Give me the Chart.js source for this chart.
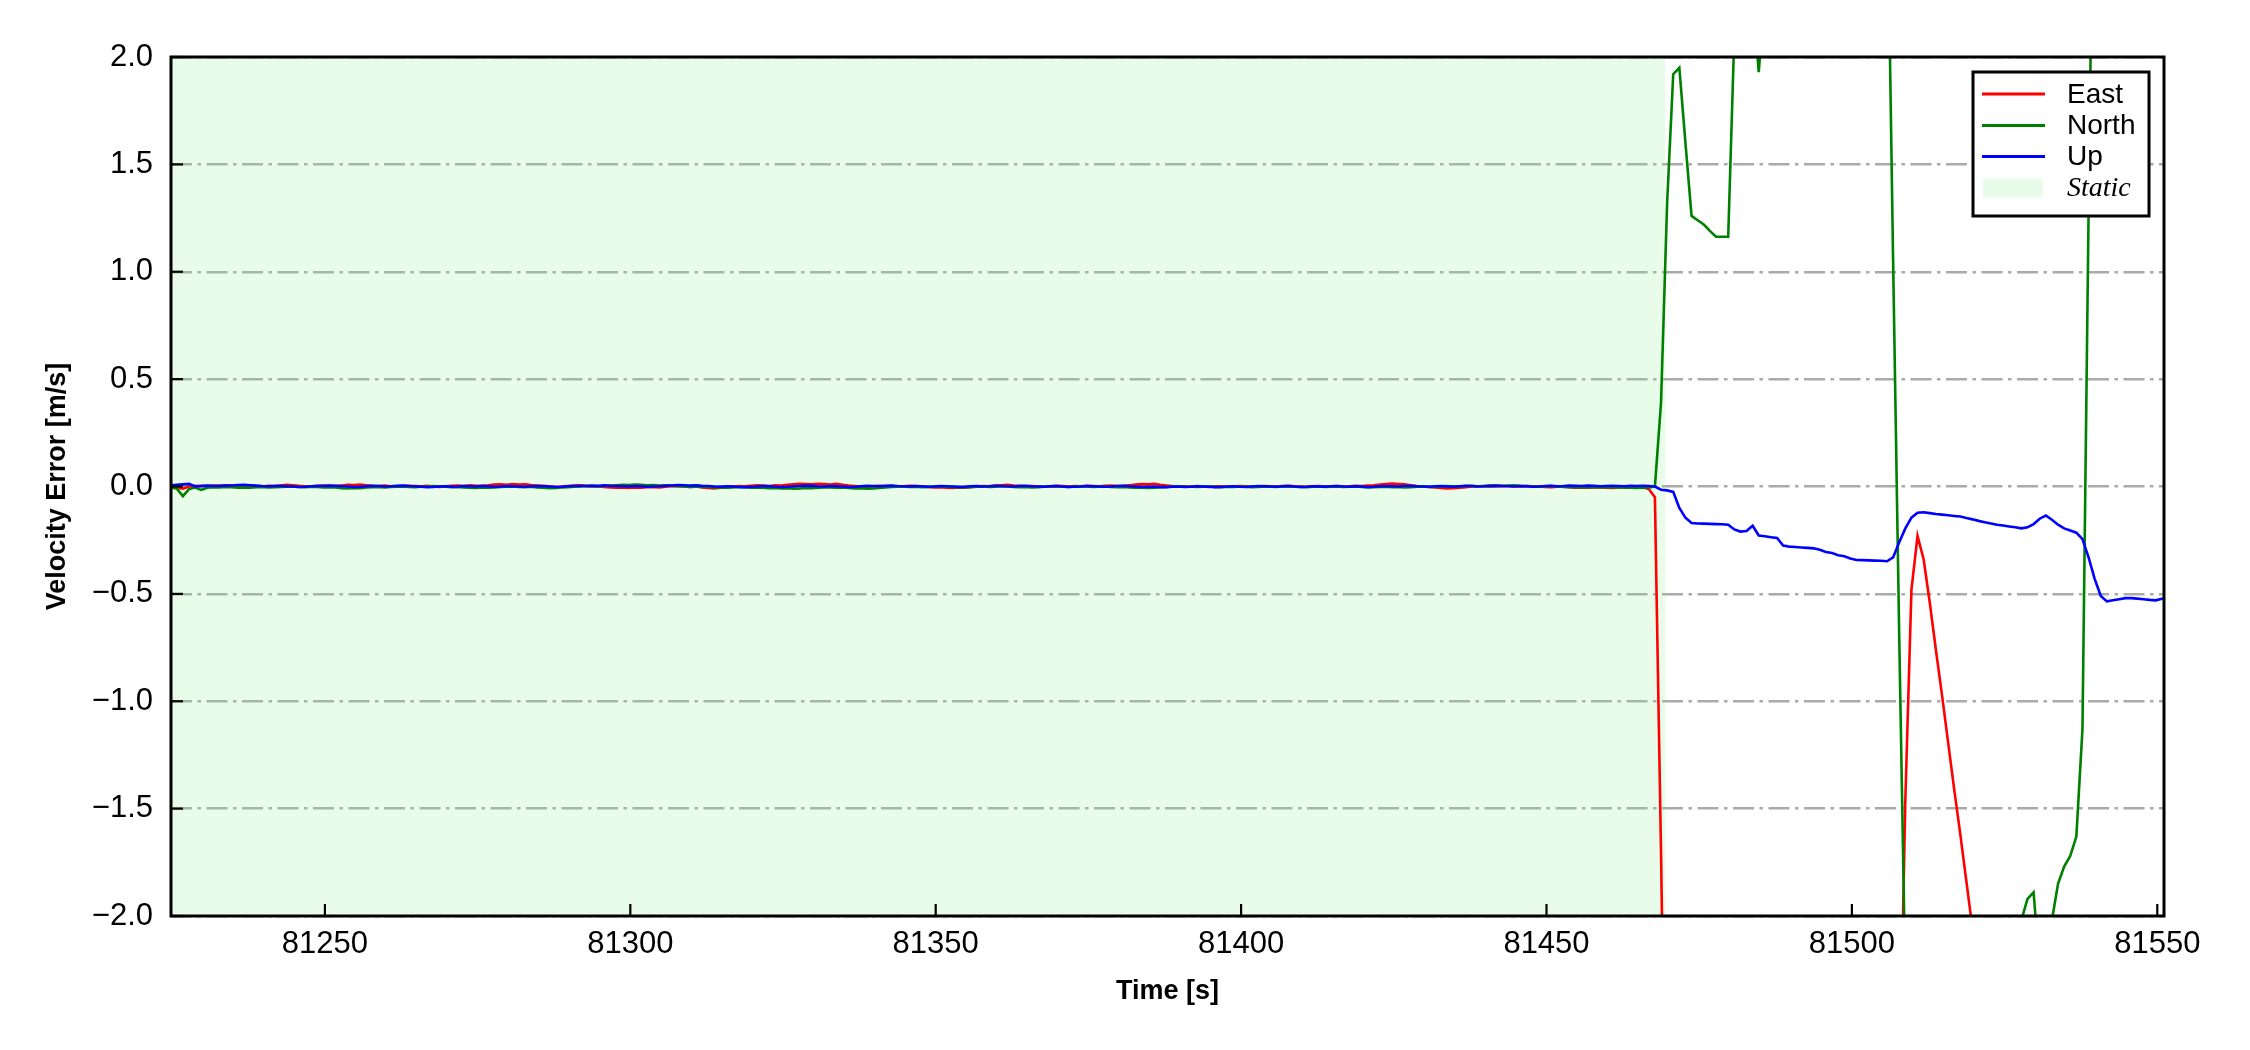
<!DOCTYPE html>
<html>
<head>
<meta charset="utf-8">
<script src="https://cdn.jsdelivr.net/npm/chart.js@4/dist/chart.umd.min.js"></script>
<style>
html,body{margin:0;padding:0;background:#ffffff;}
#wrap{width:2250px;height:1050px;position:relative;}
</style>
</head>
<body>
<div id="wrap"><canvas id="c" width="2250" height="1050"></canvas></div>
<script>
// ---------- data ----------
const seriesNames = ['East', 'North', 'Up'];
const staticLabel = 'Static';
const staticSpan = [81224.75, 81469.5];   // static period [s]
const timeStart = 81224.75;              // first sample time [s]
const timeStep = 1;                      // sample interval [s]
const xTickValues = [81250, 81300, 81350, 81400, 81450, 81500, 81550];
const yTickValues = [-2, -1.5, -1, -0.5, 0, 0.5, 1, 1.5, 2];

const eastValues = [
  0.002,-0.006,-0.01,0.0,0.003,0.001,0.002,0.004,0.003,0.005,
  0.004,0.003,0.002,0.004,0.001,0.0,0.003,0.002,0.004,0.008,
  0.006,0.003,0.001,0.0,0.002,0.004,0.003,0.002,0.005,0.008,
  0.007,0.009,0.006,0.003,0.002,0.004,0.001,0.0,0.002,0.003,
  0.002,0.001,0.003,0.0,-0.002,0.001,0.003,0.004,0.002,0.005,
  0.003,0.004,0.006,0.009,0.01,0.008,0.011,0.009,0.01,0.007,
  0.005,0.003,0.001,-0.002,0.0,0.002,0.004,0.006,0.003,0.001,
  0.0,-0.002,-0.004,-0.006,-0.005,-0.007,-0.004,-0.006,-0.003,-0.002,
  -0.004,-0.001,0.002,0.001,0.003,-0.002,0.0,-0.004,-0.007,-0.009,
  -0.006,-0.003,0.0,0.002,0.001,0.003,0.005,0.004,0.002,0.006,
  0.005,0.008,0.01,0.012,0.011,0.01,0.013,0.011,0.009,0.012,
  0.008,0.004,0.002,0.0,-0.002,0.001,0.003,0.001,0.002,0.0,
  0.001,0.003,0.002,0.0,-0.002,-0.004,-0.003,-0.006,-0.007,-0.005,
  -0.006,-0.002,0.0,0.002,0.001,0.004,0.006,0.008,0.005,0.003,
  0.001,0.002,0.0,-0.001,0.001,0.003,0.002,0.0,0.002,0.001,
  0.003,0.002,0.001,0.003,0.004,0.002,0.003,0.006,0.009,0.011,
  0.01,0.012,0.008,0.005,0.002,0.0,0.001,-0.001,0.002,0.0,
  -0.002,0.0,0.001,-0.001,0.0,0.002,0.001,-0.001,0.0,0.002,
  0.001,0.0,0.002,0.003,0.001,0.0,-0.001,0.001,0.002,0.0,
  0.001,0.002,0.0,0.001,0.003,0.002,0.004,0.006,0.009,0.012,
  0.014,0.012,0.01,0.006,0.002,0.0,-0.002,-0.005,-0.007,-0.009,
  -0.008,-0.006,-0.003,0.0,0.001,0.002,0.0,0.001,0.003,0.002,
  0.001,0.0,0.002,0.001,0.0,-0.002,-0.003,-0.001,0.0,-0.003,
  -0.005,-0.004,-0.006,-0.005,-0.003,-0.006,-0.007,-0.004,-0.005,-0.006,
  -0.004,-0.003,-0.012,
  -0.05,-1.7,-3.6,-4.5,-5.2,-5.8,-6.1,-6.3,-6.0,-5.7,
  -5.5,-5.4,-5.6,-5.9,-6.2,-6.4,-6.2,-5.9,-5.6,-5.3,
  -5.0,-4.8,-4.6,-4.5,-4.4,-4.3,-4.2,-4.1,-4.0,-3.9,
  -3.9,-3.8,-3.7,-3.6,-3.5,-3.4,-3.3,-3.2,-3.1,-3.0,
  -2.9,-1.46,-0.48,-0.23,-0.34,-0.54,-0.76,-0.97,-1.19,-1.41,
  -1.62,-1.84,-2.06,-2.3,-2.55,-2.8,-3.0,-3.2,-3.4,-3.5,
  -3.6,-3.8,-3.9,-4.0,-4.1,-4.2,-4.2,-4.3,-4.4,-4.4,
  -4.5,-4.5,-4.6,-4.6,-4.7,-4.7,-4.8,-4.8,-4.9,-4.9,
  -5.0,-5.0,-5.0,-5.1,-5.1
];

const northValues = [
  -0.004,-0.01,-0.045,-0.012,-0.005,-0.016,-0.006,-0.003,-0.004,-0.002,
  -0.003,-0.005,-0.004,-0.006,-0.003,-0.002,-0.004,-0.003,-0.002,-0.001,
  0.0,-0.002,-0.003,-0.001,-0.002,-0.004,-0.003,-0.005,-0.008,-0.009,
  -0.007,-0.008,-0.005,-0.003,-0.002,-0.004,-0.002,-0.001,0.0,-0.002,
  -0.003,-0.001,0.0,0.002,0.001,-0.001,-0.003,-0.002,-0.004,-0.006,
  -0.007,-0.005,-0.006,-0.004,-0.002,-0.001,0.0,-0.002,-0.003,-0.001,
  -0.004,-0.006,-0.008,-0.007,-0.005,-0.003,-0.001,0.0,0.002,0.001,
  0.0,0.002,0.004,0.006,0.008,0.007,0.009,0.008,0.006,0.007,
  0.005,0.006,0.004,0.002,0.0,-0.002,-0.001,0.0,-0.002,-0.004,
  -0.003,-0.005,-0.004,-0.002,-0.003,-0.005,-0.004,-0.006,-0.008,-0.007,
  -0.009,-0.008,-0.01,-0.009,-0.007,-0.008,-0.006,-0.005,-0.004,-0.006,
  -0.005,-0.007,-0.009,-0.008,-0.01,-0.009,-0.007,-0.004,-0.002,-0.001,
  0.0,-0.002,-0.001,-0.003,-0.002,0.0,0.001,-0.001,-0.003,-0.002,
  -0.004,-0.003,-0.001,0.0,-0.002,-0.001,0.001,0.0,-0.002,-0.003,
  -0.002,-0.004,-0.003,-0.001,0.0,0.001,-0.001,-0.002,0.0,0.001,
  0.0,-0.002,-0.001,0.0,-0.002,-0.003,-0.002,-0.004,-0.006,-0.005,
  -0.007,-0.006,-0.004,-0.002,0.0,0.001,-0.001,0.0,-0.002,-0.001,
  0.0,-0.002,-0.003,-0.001,-0.002,0.0,-0.001,-0.003,-0.002,0.0,
  -0.001,-0.002,0.0,0.001,-0.001,-0.002,-0.003,-0.001,0.0,-0.002,
  -0.001,0.0,-0.002,-0.001,0.0,-0.002,-0.004,-0.003,-0.002,-0.001,
  -0.003,-0.002,-0.004,-0.003,-0.001,0.0,-0.002,-0.001,0.001,0.002,
  0.001,0.0,0.002,0.003,0.001,0.002,0.004,0.003,0.002,0.004,
  0.005,0.003,0.002,0.0,-0.001,0.001,0.002,0.0,-0.002,-0.003,
  -0.002,-0.004,-0.003,-0.002,-0.004,-0.003,-0.002,-0.004,-0.005,-0.006,
  -0.007,-0.006,-0.004,
  0.0,0.39,1.32,1.92,1.95,1.6,1.26,1.24,1.22,1.19,
  1.163,1.163,1.163,2.1,2.8,2.6,2.3,1.93,2.3,2.9,
  3.4,3.8,4.1,4.3,4.4,4.5,4.4,4.2,4.0,3.9,
  3.7,3.6,3.5,3.4,3.3,3.2,3.1,3.0,2.9,1.05,
  -0.7,-2.3,-3.6,-4.5,-5.1,-5.4,-5.5,-5.3,-5.0,-4.7,
  -4.4,-4.1,-3.8,-3.5,-3.3,-3.1,-2.9,-2.8,-2.7,-2.6,
  -2.02,-1.92,-1.89,-2.25,-2.6,-2.02,-1.85,-1.77,-1.72,-1.63,
  -1.13,1.27,3.5,4.6,5.2,5.5,5.6,5.5,5.3,5.1,
  4.9,4.8,4.7,4.6,4.5
];

const upValues = [
  0.005,0.008,0.01,0.012,0.0,0.003,0.004,0.002,0.003,0.004,
  0.005,0.007,0.008,0.006,0.004,0.002,0.001,0.002,0.003,0.001,
  0.0,-0.002,-0.001,0.001,0.003,0.002,0.004,0.003,0.001,0.0,
  -0.002,-0.001,0.001,0.003,0.002,0.0,0.001,0.003,0.004,0.002,
  0.001,-0.001,-0.003,-0.002,0.0,0.001,-0.001,0.0,0.002,0.001,
  0.0,0.002,0.001,-0.001,0.0,0.002,0.001,0.0,-0.001,0.001,
  0.002,0.001,0.0,-0.002,-0.001,0.001,0.002,0.003,0.002,0.004,
  0.003,0.005,0.003,0.002,0.001,0.0,0.002,0.001,-0.001,0.0,
  0.001,0.003,0.005,0.007,0.006,0.004,0.005,0.003,0.002,0.0,
  -0.001,0.001,0.0,-0.002,-0.003,-0.001,0.0,0.002,0.001,-0.001,
  -0.002,-0.001,0.001,0.002,0.004,0.003,0.001,0.0,0.002,0.001,
  0.0,-0.002,-0.001,0.001,0.003,0.002,0.001,0.003,0.004,0.002,
  0.001,0.0,0.002,0.001,-0.001,0.0,0.002,0.001,0.0,-0.002,
  -0.001,0.001,0.002,0.0,0.001,0.003,0.002,0.001,0.0,0.002,
  0.003,0.001,0.0,-0.001,0.001,0.002,0.0,-0.002,-0.001,0.0,
  0.002,0.001,0.0,-0.001,0.0,0.002,0.003,0.001,0.0,-0.002,
  -0.001,0.0,-0.002,-0.003,-0.001,0.0,-0.002,-0.001,0.001,0.0,
  -0.001,-0.003,-0.002,0.0,0.001,-0.001,-0.002,0.0,0.002,0.001,
  0.0,-0.001,0.001,0.002,0.0,-0.002,-0.001,0.001,0.0,-0.001,
  0.001,0.002,0.0,-0.001,0.001,0.0,-0.002,-0.001,0.001,0.002,
  0.001,0.0,0.002,0.003,0.001,0.0,-0.001,0.001,0.002,0.0,
  -0.001,0.001,0.003,0.002,0.0,0.001,0.003,0.004,0.002,0.001,
  0.0,0.002,0.001,-0.001,0.0,0.002,0.003,0.001,0.002,0.004,
  0.003,0.002,0.004,0.003,0.001,0.002,0.003,0.002,0.001,0.003,
  0.002,0.003,0.002,
  0.0,-0.015,-0.018,-0.025,-0.1,-0.145,-0.17,-0.172,-0.173,-0.174,
  -0.175,-0.176,-0.178,-0.2,-0.21,-0.207,-0.183,-0.228,-0.232,-0.236,
  -0.24,-0.275,-0.28,-0.282,-0.284,-0.286,-0.288,-0.295,-0.305,-0.31,
  -0.32,-0.325,-0.335,-0.342,-0.343,-0.344,-0.345,-0.346,-0.348,-0.33,
  -0.26,-0.195,-0.145,-0.122,-0.12,-0.124,-0.128,-0.131,-0.134,-0.137,
  -0.14,-0.147,-0.153,-0.16,-0.166,-0.172,-0.178,-0.182,-0.186,-0.19,
  -0.195,-0.19,-0.175,-0.15,-0.135,-0.155,-0.178,-0.195,-0.205,-0.215,
  -0.245,-0.33,-0.43,-0.51,-0.535,-0.53,-0.525,-0.52,-0.52,-0.522,
  -0.525,-0.528,-0.53,-0.523,-0.52
];

// ---------- chart ----------
const COLORS = { East: '#ff0000', North: '#008000', Up: '#0000ff' };
const STATIC_FILL = 'rgba(144,238,144,0.2)';
const SANS = '"Liberation Sans", Arial, Helvetica, sans-serif';
const SERIF = '"Liberation Serif", "Times New Roman", Times, serif';
const Y_MIN = yTickValues[0], Y_MAX = yTickValues[yTickValues.length - 1];

const times = eastValues.map((_, i) => timeStart + i * timeStep);
const toPoints = vals => vals.map((v, i) => ({ x: times[i], y: v }));
const valuesByName = { East: eastValues, North: northValues, Up: upValues };

const lineSets = seriesNames.map((name, idx) => ({
  label: name,
  data: toPoints(valuesByName[name]),
  borderColor: COLORS[name],
  backgroundColor: COLORS[name],
  borderWidth: 2.6,
  pointRadius: 0,
  tension: 0,
  fill: false,
  order: seriesNames.length - idx   // Up drawn on top
}));

const staticSet = {
  label: staticLabel,
  data: [{ x: staticSpan[0], y: Y_MAX }, { x: staticSpan[1], y: Y_MAX }],
  borderWidth: 0,
  borderColor: 'rgba(0,0,0,0)',
  backgroundColor: STATIC_FILL,
  pointRadius: 0,
  fill: 'start',
  order: 100
};

const framePlugin = {
  id: 'frameTicks',
  afterDatasetsDraw(chart) {
    const { ctx, chartArea: a, scales: { x, y } } = chart;
    ctx.save();
    ctx.strokeStyle = '#000';
    ctx.lineWidth = 2.2;
    xTickValues.forEach(v => {
      const px = x.getPixelForValue(v);
      ctx.beginPath(); ctx.moveTo(px, a.bottom); ctx.lineTo(px, a.bottom - 12); ctx.stroke();
    });
    yTickValues.forEach(v => {
      const py = y.getPixelForValue(v);
      ctx.beginPath(); ctx.moveTo(a.left, py); ctx.lineTo(a.left + 12, py); ctx.stroke();
    });
    ctx.lineWidth = 3;
    ctx.strokeRect(a.left, a.top, a.right - a.left, a.bottom - a.top);
    ctx.restore();
  }
};

const legendPlugin = {
  id: 'boxLegend',
  afterDraw(chart) {
    const { ctx, chartArea: a } = chart;
    const w = 176, h = 144;
    const bx = a.right - 15 - w, by = a.top + 15;
    ctx.save();
    ctx.fillStyle = '#ffffff';
    ctx.fillRect(bx, by, w, h);
    ctx.strokeStyle = '#000';
    ctx.lineWidth = 3;
    ctx.strokeRect(bx, by, w, h);
    const rows = [22, 53.5, 84.5, 116];
    ctx.textBaseline = 'middle';
    ctx.textAlign = 'left';
    seriesNames.forEach((name, i) => {
      const yy = by + rows[i];
      ctx.strokeStyle = COLORS[name];
      ctx.lineWidth = 3.2;
      ctx.beginPath(); ctx.moveTo(bx + 9, yy); ctx.lineTo(bx + 72, yy); ctx.stroke();
      ctx.fillStyle = '#000';
      ctx.font = '28px ' + SANS;
      ctx.fillText(name, bx + 94, yy + 1);
    });
    const sy = by + rows[3];
    ctx.fillStyle = STATIC_FILL;
    ctx.fillRect(bx + 10, sy - 9.5, 60, 19);
    ctx.fillStyle = '#000';
    ctx.font = 'italic 28px ' + SERIF;
    ctx.fillText(staticLabel, bx + 94, sy + 1);
    ctx.restore();
  }
};

new Chart(document.getElementById('c'), {
  type: 'line',
  data: { datasets: [...lineSets, staticSet] },
  options: {
    responsive: false,
    animation: false,
    events: [],
    parsing: true,
    layout: { padding: { top: 57, right: 86, bottom: 0, left: 0 } },
    plugins: { legend: { display: false }, tooltip: { enabled: false } },
    scales: {
      x: {
        type: 'linear',
        min: 81224.8,
        max: 81551.1,
        afterBuildTicks: s => { s.ticks = xTickValues.map(v => ({ value: v })); },
        afterFit: s => { s.height = 134; },
        grid: { display: false, drawTicks: false },
        border: { display: false },
        ticks: {
          padding: 10, color: '#000', maxRotation: 0, autoSkip: false,
          font: { family: SANS, size: 31 },
          callback: v => String(v)
        },
        title: {
          display: true, text: 'Time [s]', color: '#000',
          font: { family: SANS, size: 27, weight: 'bold' },
          padding: { top: 0, bottom: 42 }
        }
      },
      y: {
        min: Y_MIN,
        max: Y_MAX,
        afterBuildTicks: s => { s.ticks = yTickValues.map(v => ({ value: v })); },
        afterFit: s => { s.width = 171; },
        grid: { color: '#aaaaaa', lineWidth: 2.5, drawTicks: false },
        border: { display: false, dash: [21, 5.5, 3.5, 5.5] },
        ticks: {
          padding: 18, color: '#000',
          font: { family: SANS, size: 31 },
          callback: v => (v < 0 ? '\u2212' : '') + Math.abs(v).toFixed(1)
        },
        title: {
          display: true, text: 'Velocity Error [m/s]', color: '#000',
          font: { family: SANS, size: 27, weight: 'bold' },
          padding: { top: 41, bottom: 0 }
        }
      }
    }
  },
  plugins: [framePlugin, legendPlugin]
});
</script>
</body>
</html>
